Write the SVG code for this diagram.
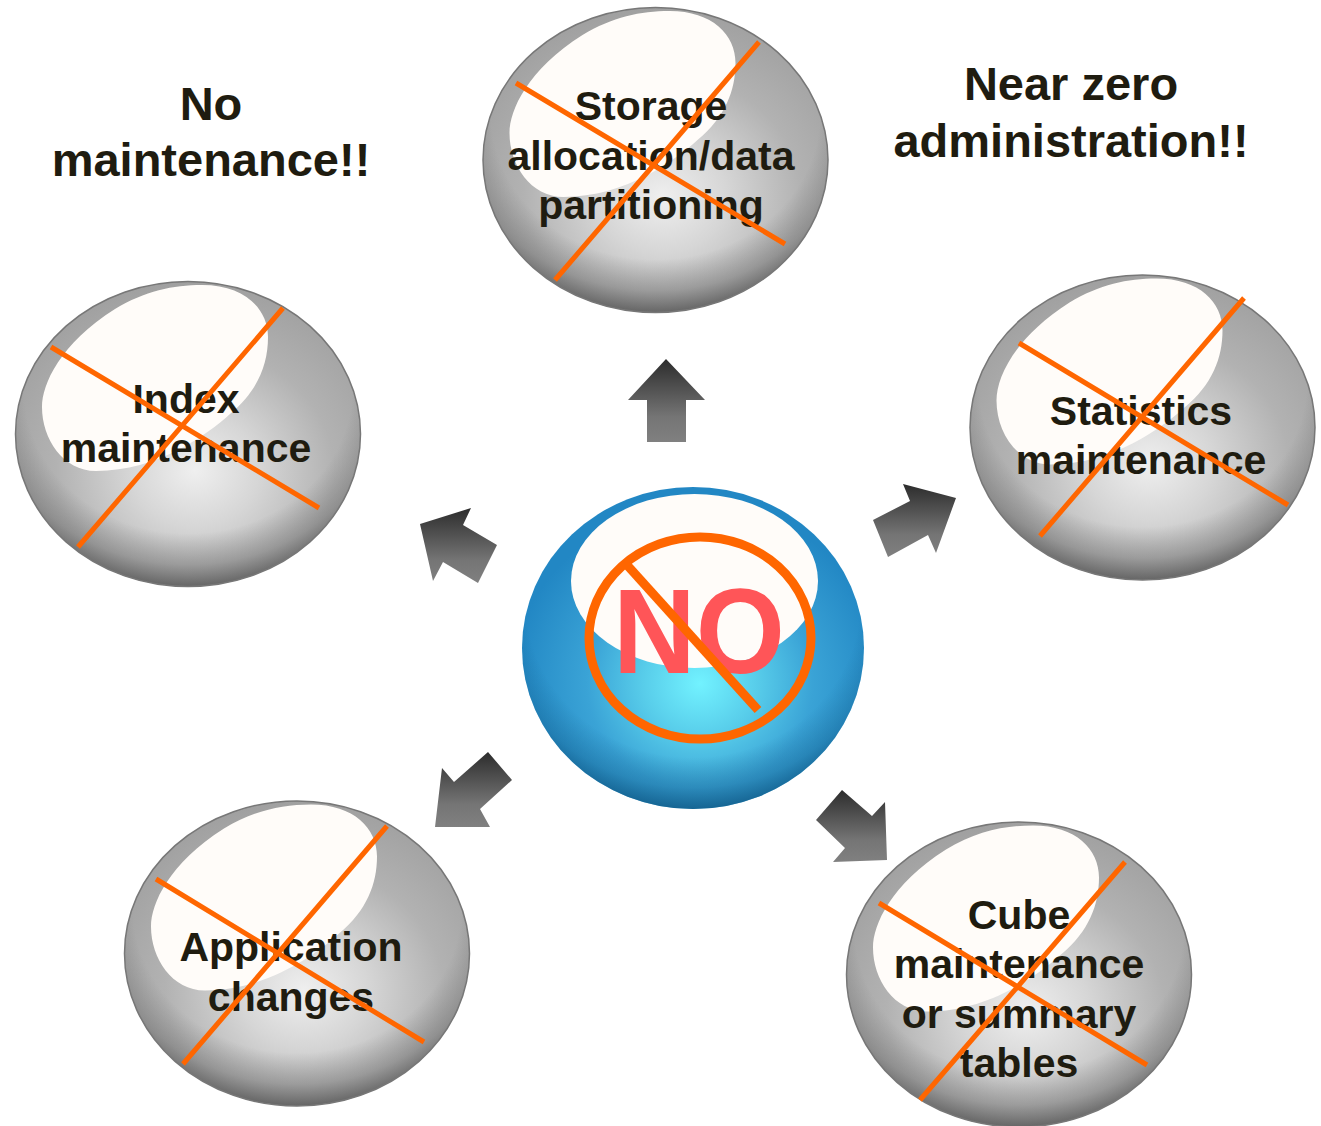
<svg xmlns="http://www.w3.org/2000/svg" xmlns:xlink="http://www.w3.org/1999/xlink" width="1321" height="1126" viewBox="0 0 1321 1126">
<style>
text{font-family:"Liberation Sans",Arial,sans-serif;font-weight:bold;fill:#1f1c10;text-anchor:middle}
.lbl{font-size:41px}
.title{font-size:47px}
.x{stroke:#ff6600;stroke-width:5;fill:none}
.arrow{fill:url(#arrowGrad)}
.hl{fill:#fffcf9}
.rim{fill:url(#rimGrad);stroke:#777;stroke-width:1.5}
</style>
<defs>
<radialGradient id="ballGrad" cx=".52" cy=".62" r=".62">
<stop offset="0" stop-color="#efefef"/><stop offset=".3" stop-color="#d6d6d6"/><stop offset=".65" stop-color="#b2b2b2"/><stop offset="1" stop-color="#a0a0a0"/>
</radialGradient>
<radialGradient id="rimGrad" cx=".5" cy=".35" r=".68">
<stop offset=".7" stop-color="#555" stop-opacity="0"/><stop offset=".85" stop-color="#555" stop-opacity=".35"/><stop offset="1" stop-color="#444" stop-opacity=".9"/>
</radialGradient>
<radialGradient id="blueGrad" cx=".52" cy=".61" r=".55">
<stop offset="0" stop-color="#72f2ff"/><stop offset=".3" stop-color="#58cdea"/><stop offset=".6" stop-color="#3aa3d6"/><stop offset="1" stop-color="#2287c4"/>
</radialGradient>
<radialGradient id="blueRim" cx=".5" cy=".35" r=".68">
<stop offset=".72" stop-color="#0a4f7a" stop-opacity="0"/><stop offset=".86" stop-color="#0a4f7a" stop-opacity=".3"/><stop offset="1" stop-color="#0a4f7a" stop-opacity=".9"/>
</radialGradient>
<linearGradient id="arrowGrad" x1="0" y1="0" x2="0" y2="1">
<stop offset="0" stop-color="#2c2c2c"/><stop offset=".7" stop-color="#757575"/><stop offset="1" stop-color="#808080"/>
</linearGradient>
<g id="ball">
<ellipse rx="172.500" ry="152.500" fill="url(#ballGrad)"/>
<ellipse rx="172.500" ry="152.500" class="rim"/>
<path class="hl" d="M-146,-27 C-146,-50 -128,-90 -73,-125 C-43,-143 -15,-149 14,-149 C57,-149 80,-125 80,-97 C80,-70 70,-43 42,-20 C20,0 -30,37 -92,37 C-125,37 -146,5 -146,-27Z"/>
</g>
</defs>

<g id="connectors">
<polygon class="arrow" points="666,359 705,400 686,400 686,442 647,442 647,400 628,400"/>
<polygon class="arrow" points="420,524 471,508 463,525 497,545 478,583 443,562 433,581"/>
<polygon class="arrow" points="903,484 956,498 936,553 928,535 888,557 873,520 910,501"/>
<polygon class="arrow" points="488,752 512,780 480,809 490,827 435,827 442,768 454,782"/>
<polygon class="arrow" points="842,790 872,816 885,802 887,860 833,862 845,848 816,820"/>
</g>

<g id="node-storage">
<use href="#ball" xlink:href="#ball" transform="translate(655.500 160)"/>
<text class="lbl" x="651" y="119.500">Storage</text>
<text class="lbl" x="651" y="169.500">allocation/data</text>
<text class="lbl" x="651" y="219">partitioning</text>
<path class="x" d="M516,83L785,244M759,42L555,280"/>
</g>
<g id="node-index">
<use href="#ball" xlink:href="#ball" transform="translate(188 434)"/>
<text class="lbl" x="186" y="413">Index</text>
<text class="lbl" x="186" y="462">maintenance</text>
<path class="x" d="M51,347L319,508M283,308L78,547"/>
</g>
<g id="node-statistics">
<use href="#ball" xlink:href="#ball" transform="translate(1142.500 427.500)"/>
<text class="lbl" x="1141" y="425">Statistics</text>
<text class="lbl" x="1141" y="474">maintenance</text>
<path class="x" d="M1019,343L1288,505M1244,298L1040,536"/>
</g>
<g id="node-application">
<use href="#ball" xlink:href="#ball" transform="translate(297 953.500)"/>
<text class="lbl" x="291" y="961">Application</text>
<text class="lbl" x="291" y="1010.500">changes</text>
<path class="x" d="M156,879L424,1042M387,826L183,1064"/>
</g>
<g id="node-cube">
<use href="#ball" xlink:href="#ball" transform="translate(1019 974.500)"/>
<text class="lbl" x="1019" y="929">Cube</text>
<text class="lbl" x="1019" y="978">maintenance</text>
<text class="lbl" x="1019" y="1027.500">or summary</text>
<text class="lbl" x="1019" y="1077">tables</text>
<path class="x" d="M879,903L1147,1065M1125,862L920,1100"/>
</g>
<g id="node-center">
<ellipse cx="693" cy="648" rx="171" ry="161" fill="url(#blueGrad)"/>
<ellipse cx="693" cy="648" rx="171" ry="161" fill="url(#blueRim)"/>
<ellipse class="hl" cx="694.500" cy="581" rx="123.500" ry="87"/>
<text x="613" y="673" textLength="172" lengthAdjust="spacingAndGlyphs" style="font-size:120px;fill:#ff5558;text-anchor:start">NO</text>
<ellipse cx="700" cy="638" rx="111" ry="101" fill="none" stroke="#ff6600" stroke-width="9"/>
<path d="M627,565L758,710" fill="none" stroke="#ff6600" stroke-width="9"/>
</g>
<g id="title-left">
<text class="title" x="211" y="120">No</text>
<text class="title" x="211" y="176">maintenance!!</text>
</g>
<g id="title-right">
<text class="title" x="1071" y="100">Near zero</text>
<text class="title" x="1071" y="157">administration!!</text>
</g>
</svg>
